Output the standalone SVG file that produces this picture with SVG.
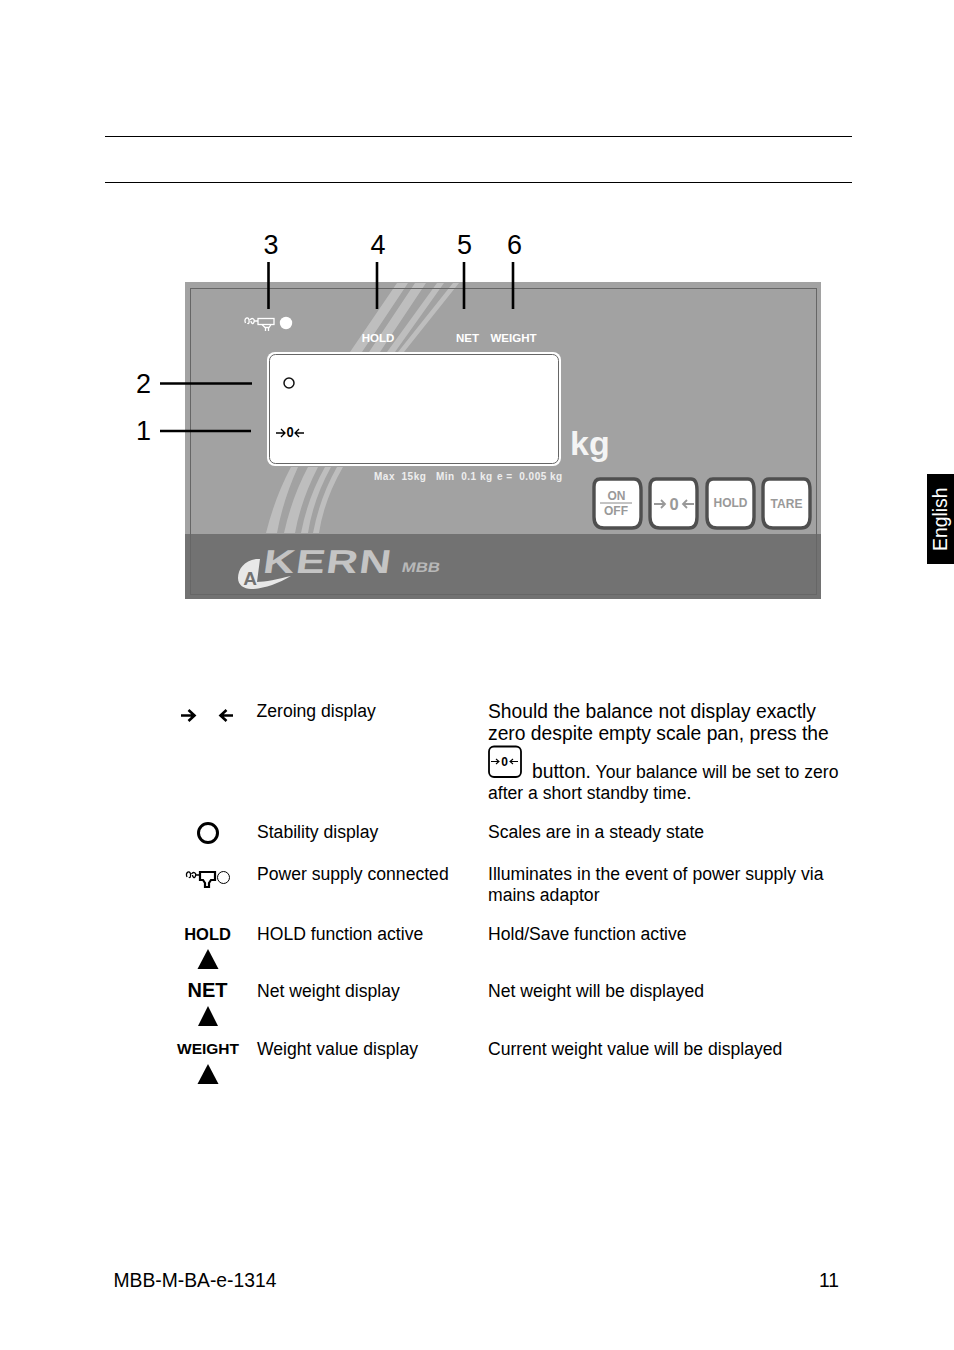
<svg xmlns="http://www.w3.org/2000/svg" width="954" height="1350" viewBox="0 0 954 1350">
<style>
text{font-family:"Liberation Sans",Arial,sans-serif;fill:#000}
.b{font-size:17.6px}
.l{font-size:19.3px}
.n{font-size:27px}
.f{font-size:19.3px}
.w{fill:#fff;font-weight:bold}
.g{fill:#999;font-weight:bold;text-anchor:middle}
.s{fill:#bebebe}
.k{stroke:#000;stroke-width:2.6;fill:none}
.key{fill:#fff;stroke:#4f4f4f;stroke-width:3.400}
.ic{font-weight:bold;text-anchor:middle}
.ar{stroke:#000;fill:none}
.sm{fill:#eee;font-weight:bold;font-size:10px;letter-spacing:.5px}
</style>
<rect width="954" height="1350" fill="#fff"/>
<g id="rules" stroke="#000" stroke-width="1"><line x1="105" y1="136.500" x2="852" y2="136.500"/><line x1="105" y1="182.500" x2="852" y2="182.500"/></g>
<g id="panel">
<rect x="185" y="282" width="636" height="317" fill="#a2a2a2"/>
<path class="s" d="M397 283H408L362 352H350ZM415 283H426L380 352H369ZM437 283H444L395 352H387ZM453 283H459L404 352H398ZM291 467H298Q283 500 277 533H266Q275 497 291 467ZM308 467H318Q301 500 295 533H284Q292 497 308 467ZM325 467H331Q313 500 308 533H301Q308 497 325 467ZM337 467H343Q324 500 319 533H313Q320 497 337 467Z"/>
<rect x="185" y="534" width="636" height="65" fill="#727272"/>
<rect x="190.500" y="288.500" width="626" height="306" fill="none" stroke="#666" stroke-width="1"/>
<rect x="267" y="352" width="294" height="114" rx="8" fill="#fff"/>
<rect x="269.500" y="354.500" width="289" height="109" rx="6" fill="#fff" stroke="#666" stroke-width="1"/>
<g id="panel-power" fill="none" stroke="#fff" stroke-width="1.300"><path d="M245.500 323c-2-5 3-7 3.500-3s-1 4-1.500 3M250 320c2-3 5-1 4 2s-3 1-3-1M254 321h4"/><rect x="258" y="318.500" width="16" height="6"/><path d="M262 324.500l3 3h4l2-3M265.500 327v4M268.500 327v4"/></g>
<circle cx="286" cy="323" r="6.200" fill="#fff"/>
<text class="w" x="378" y="342" font-size="11.500" text-anchor="middle">HOLD</text>
<text class="w" x="467.500" y="342" font-size="11.500" text-anchor="middle">NET</text>
<text class="w" x="513.500" y="342" font-size="11.500" text-anchor="middle">WEIGHT</text>
<circle cx="289" cy="383" r="5" fill="none" stroke="#111" stroke-width="1.500"/>
<g class="ar" stroke-width="1.300"><path d="M276 433H285M281 429l4 4-4 4M304 433H295M299 429l-4 4 4 4"/></g>
<text x="290" y="437.500" font-size="13" text-anchor="middle" font-weight="bold" transform="translate(290 437.500) scale(1 1.150) translate(-290 -437.500)">0</text>
<text class="sm" x="374" y="480" xml:space="preserve">Max  15kg</text>
<text class="sm" x="436" y="480" xml:space="preserve">Min  0.1 kg</text>
<text class="sm" x="497" y="480" xml:space="preserve">e =  0.005 kg</text>
<text class="w" x="570" y="455" font-size="34" style="fill:#f4f4f4">kg</text>
<g id="logo">
<path d="M256 559c-12 2-18 10-18 19 0 7 6 11 13 11 11 0 27-5 40-13-13 3-26 6-34 6l3-23z" fill="#e8e8e8"/>
<text x="250" y="585" font-size="19" text-anchor="middle" style="fill:#727272;font-weight:bold">A</text>
<text x="262" y="573" font-size="33" transform="translate(262 573) scale(1.320 1) skewX(-6) translate(-262 -573)" style="fill:#c4c4c4;font-weight:bold;letter-spacing:1px">KERN</text>
<text x="401" y="572" font-size="14" transform="translate(401 572) scale(1.200 1) skewX(-10) translate(-401 -572)" style="fill:#b8b8b8;font-weight:bold">MBB</text>
</g>
<g id="keys">
<path class="key" d="M600 479H634Q641 479 641 490V517Q641 528 632 528H604Q594 528 594 517V487Q594 479 600 479Z"/>
<path class="key" d="M656 479H691Q697 479 697 490V517Q697 528 689 528H660Q650 528 650 517V487Q650 479 656 479Z"/>
<path class="key" d="M713 479H748Q754 479 754 490V517Q754 528 745 528H717Q707 528 707 517V487Q707 479 713 479Z"/>
<path class="key" d="M769 479H804Q810 479 810 490V517Q810 528 801 528H773Q763 528 763 517V487Q763 479 769 479Z"/>
<text class="g" x="616.500" y="500" font-size="12">ON</text><line x1="600" y1="503" x2="632" y2="503" stroke="#888" stroke-width="1"/><text class="g" x="616" y="515" font-size="12">OFF</text>
<g fill="none" stroke="#999" stroke-width="1.800"><path d="M654 504H665M661 500l4 4-4 4M694 504H683M687 500l-4 4 4 4"/></g>
<text class="g" x="674" y="510" font-size="16.500">0</text>
<text class="g" x="730.500" y="507" font-size="12">HOLD</text>
<text class="g" x="786.500" y="508" font-size="12">TARE</text>
</g>
</g>
<g id="connectors" class="k">
<line x1="268.500" y1="262" x2="268.500" y2="309"/>
<line x1="377" y1="262" x2="377" y2="309"/>
<line x1="464" y1="262" x2="464" y2="309"/>
<line x1="513" y1="262" x2="513" y2="309"/>
<line x1="160" y1="383.500" x2="252" y2="383.500"/>
<line x1="160" y1="431" x2="251" y2="431"/>
</g>
<g id="numbers">
<text class="n" x="271" y="254" text-anchor="middle">3</text>
<text class="n" x="378" y="254" text-anchor="middle">4</text>
<text class="n" x="464.500" y="254" text-anchor="middle">5</text>
<text class="n" x="514.500" y="254" text-anchor="middle">6</text>
<text class="n" x="143.500" y="393" text-anchor="middle">2</text>
<text class="n" x="143.500" y="440" text-anchor="middle">1</text>
</g>
<g id="row-zero">
<g fill="none" stroke="#000" stroke-width="2.600"><path d="M181 715.500H193M188.500 710l6 5.500-6 5.500M233 715.500H221M226.500 710l-6 5.500 6 5.500"/></g>
<text class="b" x="256.500" y="717">Zeroing display</text>
<text class="l" x="488" y="718">Should the balance not display exactly</text>
<text class="l" x="488" y="740">zero despite empty scale pan, press the</text>
<rect x="489" y="746.500" width="32" height="30.500" rx="5" fill="#fff" stroke="#000" stroke-width="1.800"/>
<g fill="none" stroke="#000" stroke-width="1.100"><path d="M491 761.500H499M496 759l3 2.500-3 2.500M518 761.500H510M513 759l-3 2.500 3 2.500"/></g>
<text x="504.500" y="766" font-size="12" text-anchor="middle" font-weight="bold">0</text>
<text x="532" y="778" font-size="19.300">button.<tspan font-size="17.600"> Your balance will be set to zero</tspan></text>
<text class="b" x="488" y="799">after a short standby time.</text>
</g>
<g id="row-stability">
<circle cx="208" cy="833" r="9.500" fill="none" stroke="#000" stroke-width="3"/>
<text class="b" x="257" y="838">Stability display</text>
<text class="b" x="488" y="838">Scales are in a steady state</text>
</g>
<g id="row-power">
<g fill="none" stroke="#000" stroke-width="1.300"><path d="M187 877c-2-5 3-7 3.500-3s-1 4-1.500 3M191.500 874c2-3 5-1 4 2s-3 1-3-1M195.500 875h4.500"/></g>
<path d="M200 872H215V880H211L209 883V887H205V883L203 880H200Z" fill="none" stroke="#000" stroke-width="2.200"/>
<circle cx="223.500" cy="877.500" r="6" fill="none" stroke="#000" stroke-width="1"/>
<text class="b" x="257" y="880">Power supply connected</text>
<text class="b" x="488" y="880">Illuminates in the event of power supply via</text>
<text class="b" x="488" y="901">mains adaptor</text>
</g>
<g id="row-hold">
<text class="ic" x="207.500" y="939.500" font-size="16.500">HOLD</text>
<path d="M208 949L218.500 969H197.500Z"/>
<text class="b" x="257" y="940">HOLD function active</text>
<text class="b" x="488" y="940">Hold/Save function active</text>
</g>
<g id="row-net">
<text class="ic" x="207.500" y="997" font-size="20">NET</text>
<path d="M208 1006L218 1026H198Z"/>
<text class="b" x="257" y="997">Net weight display</text>
<text class="b" x="488" y="997">Net weight will be displayed</text>
</g>
<g id="row-weight">
<text class="ic" x="208" y="1054" font-size="15.500">WEIGHT</text>
<path d="M208 1064L218.500 1084H197.500Z"/>
<text class="b" x="257" y="1055">Weight value display</text>
<text class="b" x="488" y="1055">Current weight value will be displayed</text>
</g>
<g id="tab"><rect x="927" y="474" width="27" height="90" fill="#000"/>
<text x="946.500" y="551" font-size="19.400" transform="rotate(-90 946.500 551)" style="fill:#fff">English</text></g>
<g id="footer"><text class="f" x="113.500" y="1287">MBB-M-BA-e-1314</text><text class="f" x="819" y="1287">11</text></g>
</svg>
